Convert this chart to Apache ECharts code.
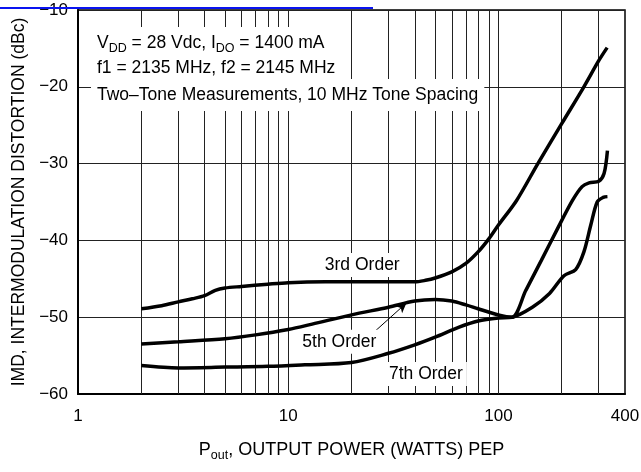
<!DOCTYPE html>
<html>
<head>
<meta charset="utf-8">
<script src="https://cdn.jsdelivr.net/npm/echarts@6/dist/echarts.min.js"></script>
<style>
  html, body { margin: 0; padding: 0; background: #fff; }
  #chart { width: 641px; height: 472px; }
</style>
</head>
<body>
<div id="chart"></div>
<script>
const FONT = "'Liberation Sans', Arial, sans-serif"

// Pout (W) and IMD (dBc)
const power3rd = [2, 2.5, 3, 3.5, 4, 4.5, 5, 6, 8, 10, 15, 20, 30, 40, 45, 50, 60, 70, 80, 90, 100, 122, 154, 200, 255, 300, 329]
const imd3rd = [-48.9, -48.5, -48.0, -47.6, -47.2, -46.5, -46.2, -46.0, -45.7, -45.5, -45.4, -45.4, -45.4, -45.4, -45.2, -44.9, -44.1, -43.0, -41.5, -39.8, -38.0, -34.8, -30.0, -24.8, -20.0, -16.6, -14.9]

const power5th = [2, 3, 5, 7, 10, 13, 20, 30, 40, 50, 60, 70, 80, 100, 116, 135, 160, 190, 225, 250, 270, 300, 318, 330]
const imd5th = [-53.5, -53.2, -52.8, -52.3, -51.6, -50.9, -49.7, -48.7, -47.9, -47.7, -47.9, -48.4, -48.9, -49.7, -50.0, -46.5, -42.6, -38.6, -34.8, -33.0, -32.5, -32.3, -31.3, -28.3]

const power7th = [2, 3, 5, 8, 12, 20, 30, 40, 50, 65, 80, 100, 116, 145, 175, 205, 233, 255, 275, 295, 315, 330]
const imd7th = [-56.3, -56.6, -56.5, -56.4, -56.2, -55.9, -54.7, -53.6, -52.6, -51.3, -50.5, -50.1, -50.0, -48.7, -46.9, -44.6, -43.8, -41.5, -38.0, -35.0, -34.4, -34.3]

const xTickLabels = [1, 10, 100, 400]
const xGridValues = [2, 3, 4, 5, 6, 7, 8, 9, 10, 20, 30, 40, 50, 60, 70, 80, 90, 100, 200, 300]

// curve labels: [text, x, y]
const curveLabels = [
  ['3rd Order', 22.5, -43.2],
  ['5th Order', 17.5, -53.2],
  ['7th Order', 45.2, -57.4],
]
const arrow5th = [[25.7, -51.9], [36.5, -48.15]]

const zip = (xs, ys) => xs.map((x, i) => [x, ys[i]])

const curveStyle = { color: '#000', width: 3.5 }

function labelPoint(l) {
  return {
    coord: [l[1], l[2]],
    symbol: 'rect',
    symbolSize: 0,
    label: {
      show: true,
      position: 'inside',
      formatter: l[0],
      color: '#000',
      fontFamily: FONT,
      fontSize: 17.5,
      backgroundColor: '#fff',
      padding: [3, 4],
    },
  }
}

const chart = echarts.init(document.getElementById('chart'))

const rich = {
  n: { fontFamily: FONT, fontSize: 17.5, lineHeight: 24, color: '#000' },
  s: { fontFamily: FONT, fontSize: 12.5, lineHeight: 12, verticalAlign: 'bottom', color: '#000' },
}

function boxLine(text, y) {
  return {
    type: 'text',
    left: 91,
    top: y - 16,
    z: 50,
    style: {
      text,
      rich,
      backgroundColor: '#fff',
      padding: [4, 6, 4, 6],
    },
  }
}

chart.setOption({
  animation: false,
  backgroundColor: '#fff',
  grid: {
    left: 78, right: 16, top: 10, bottom: 78,
    outerBoundsMode: 'none',
    containLabel: false,
    show: true, borderColor: '#000', borderWidth: 1.5,
  },
  xAxis: {
    type: 'log',
    logBase: 10,
    min: 1,
    max: 400,
    name: '{n|P}{s|out}{n|, OUTPUT POWER (WATTS) PEP}',
    nameLocation: 'middle',
    nameGap: 44,
    nameTextStyle: {
      rich: {
        n: { fontFamily: FONT, fontSize: 18, lineHeight: 24, color: '#000' },
        s: { fontFamily: FONT, fontSize: 12.5, lineHeight: 12, verticalAlign: 'bottom', color: '#000' },
      },
    },
    axisLine: { lineStyle: { color: '#000', width: 2 } },
    axisTick: { show: false },
    splitLine: { show: false },
    minorSplitLine: { show: false },
    axisLabel: {
      customValues: xTickLabels,
      color: '#000',
      fontFamily: FONT,
      fontSize: 17,
      margin: 14,
    },
  },
  yAxis: {
    type: 'value',
    min: -60,
    max: -10,
    interval: 10,
    name: 'IMD, INTERMODULATION DISTORTION (dBc)',
    nameLocation: 'middle',
    nameGap: 50,
    nameTextStyle: { fontFamily: FONT, fontSize: 17.5, color: '#000' },
    axisLine: { show: true, lineStyle: { color: '#000', width: 2 } },
    axisTick: { show: false },
    splitLine: { lineStyle: { color: '#222', width: 1 } },
    axisLabel: {
      color: '#000',
      fontFamily: FONT,
      fontSize: 17,
      margin: 10,
      formatter: (v) => String(v).replace('-', '\u2212'),
    },
  },
  series: [
    {
      name: '3rd Order',
      type: 'line',
      data: zip(power3rd, imd3rd),
      smooth: 0.3,
      showSymbol: false,
      lineStyle: curveStyle,
      z: 5,
      markPoint: { data: [labelPoint(curveLabels[0])], z: 20 },
    },
    {
      name: '5th Order',
      type: 'line',
      data: zip(power5th, imd5th),
      smooth: 0.3,
      showSymbol: false,
      lineStyle: curveStyle,
      z: 5,
      markPoint: { data: [labelPoint(curveLabels[1])], z: 20 },
      markLine: {
        silent: true,
        symbolSize: [7, 10],
        label: { show: false },
        lineStyle: { color: '#000', width: 1, type: 'solid' },
        data: [[
          { coord: arrow5th[0], symbol: 'none' },
          { coord: arrow5th[1], symbol: 'arrow' },
        ]],
      },
    },
    {
      name: '7th Order',
      type: 'line',
      data: zip(power7th, imd7th),
      smooth: 0.3,
      showSymbol: false,
      lineStyle: curveStyle,
      z: 5,
      markPoint: { data: [labelPoint(curveLabels[2])], z: 20 },
      markLine: {
        silent: true,
        symbol: 'none',
        label: { show: false },
        lineStyle: { color: '#222', width: 1, type: 'solid' },
        z: 1,
        data: xGridValues.map((v) => ({ xAxis: v })),
      },
    },
  ],
  graphic: [
    boxLine('{n|V}{s|DD}{n| = 28 Vdc, I}{s|DQ}{n| = 1400 mA}', 43),
    boxLine('{n|f1 = 2135 MHz, f2 = 2145 MHz}', 68),
    boxLine('{n|Two\u2013Tone Measurements, 10 MHz Tone Spacing}', 95),
    {
      type: 'line',
      z: 60,
      shape: { x1: 0, y1: 8, x2: 373, y2: 8 },
      style: { stroke: '#0a14f0', lineWidth: 2 },
    },
  ],
})
</script>
</body>
</html>
